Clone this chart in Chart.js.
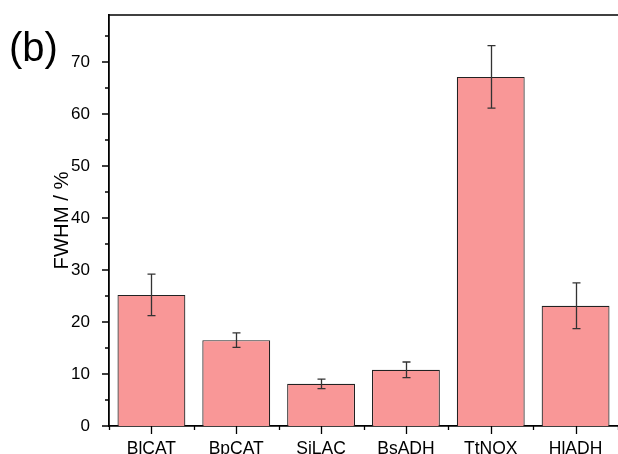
<!DOCTYPE html>
<html>
<head>
<meta charset="utf-8">
<script src="https://cdn.jsdelivr.net/npm/chart.js@4.4.1/dist/chart.umd.min.js"></script>
<style>
html,body{margin:0;padding:0;background:#fff;}
#wrap{width:618px;height:454px;position:relative;}
</style>
</head>
<body>
<div id="wrap"><canvas id="c" width="618" height="454"></canvas></div>
<script>
const categories = ['BlCAT', 'BpCAT', 'SiLAC', 'BsADH', 'TtNOX', 'HlADH'];
const fwhm = [25.2, 16.5, 8.1, 10.8, 67.1, 23.1];
const fwhmErr = [4.0, 1.4, 0.9, 1.5, 6.0, 4.4];
const yTickValues = [0, 10, 20, 30, 40, 50, 60, 70];
const yMinorValues = [5, 15, 25, 35, 45, 55, 65, 75];
const yMax = 79;

const FONT = "'Liberation Sans', Arial, Helvetica, sans-serif";

const decorPlugin = {
  id: 'decor',
  afterDatasetsDraw(chart) {
    const ctx = chart.ctx;
    const y = chart.scales.y;
    const meta = chart.getDatasetMeta(0);
    ctx.save();
    ctx.strokeStyle = '#333';
    ctx.lineWidth = 1.3;
    meta.data.forEach((bar, i) => {
      const cx = Math.round(bar.x) + 0.5;
      const yt = y.getPixelForValue(fwhm[i] + fwhmErr[i]);
      const yb = y.getPixelForValue(fwhm[i] - fwhmErr[i]);
      ctx.beginPath();
      ctx.moveTo(cx, yt); ctx.lineTo(cx, yb);
      ctx.moveTo(cx - 4, yt); ctx.lineTo(cx + 4, yt);
      ctx.moveTo(cx - 4, yb); ctx.lineTo(cx + 4, yb);
      ctx.stroke();
    });
    ctx.restore();
  },
  afterDraw(chart) {
    const ctx = chart.ctx;
    const x = chart.scales.x, y = chart.scales.y;
    const a = chart.chartArea;
    ctx.save();
    ctx.strokeStyle = '#000';
    ctx.lineWidth = 1.5;
    ctx.beginPath();
    ctx.moveTo(a.left, a.top); ctx.lineTo(a.right, a.top);
    ctx.stroke();
    ctx.lineWidth = 1.3;
    ctx.beginPath();
    yTickValues.forEach(v => {
      const py = Math.round(y.getPixelForValue(v));
      ctx.moveTo(a.left, py); ctx.lineTo(a.left - 7, py);
    });
    yMinorValues.forEach(v => {
      const py = Math.round(y.getPixelForValue(v));
      ctx.moveTo(a.left, py); ctx.lineTo(a.left - 4, py);
    });
    categories.forEach((c, i) => {
      const px = Math.round(x.getPixelForValue(i)) + 0.5;
      ctx.moveTo(px, a.bottom); ctx.lineTo(px, a.bottom + 8);
    });
    for (let i = 0; i <= categories.length; i++) {
      const px = Math.round(x.getPixelForValue(i - 0.5)) + 0.5;
      ctx.moveTo(px, a.bottom); ctx.lineTo(px, a.bottom + 4);
    }
    ctx.stroke();
    ctx.fillStyle = '#000';
    ctx.font = '40px ' + FONT;
    ctx.textBaseline = 'alphabetic';
    ctx.textAlign = 'left';
    ctx.fillText('(b)', 9, 61);
    ctx.restore();
  }
};

new Chart(document.getElementById('c'), {
  type: 'bar',
  data: {
    labels: categories,
    datasets: [{
      data: fwhm,
      backgroundColor: '#f99797',
      borderColor: '#222',
      borderWidth: 1.2,
      barPercentage: 0.8,
      categoryPercentage: 1.0
    }]
  },
  options: {
    responsive: false,
    animation: false,
    layout: { padding: { left: 0, top: 15, right: 0, bottom: 0 } },
    plugins: { legend: { display: false }, tooltip: { enabled: false } },
    scales: {
      x: {
        grid: { display: false },
        border: { display: true, color: '#000', width: 1.8 },
        ticks: { color: '#000', font: { family: FONT, size: 17.5 }, padding: 5, maxRotation: 0 },
        afterFit(s) { s.height = 28; s.paddingLeft = 0; s.paddingRight = 0; }
      },
      y: {
        min: 0, max: yMax,
        grid: { display: false },
        border: { display: true, color: '#000', width: 1.8 },
        ticks: { color: '#000', font: { family: FONT, size: 17 }, padding: 11 },
        afterBuildTicks(s) { s.ticks = yTickValues.map(v => ({ value: v })); },
        title: { display: true, text: 'FWHM / %', color: '#000', font: { family: FONT, size: 20.3 }, padding: { top: 50, bottom: 0 } },
        afterFit(s) { s.width = 109; s.paddingTop = 0; s.paddingBottom = 0; }
      }
    }
  },
  plugins: [decorPlugin]
});
</script>
</body>
</html>
